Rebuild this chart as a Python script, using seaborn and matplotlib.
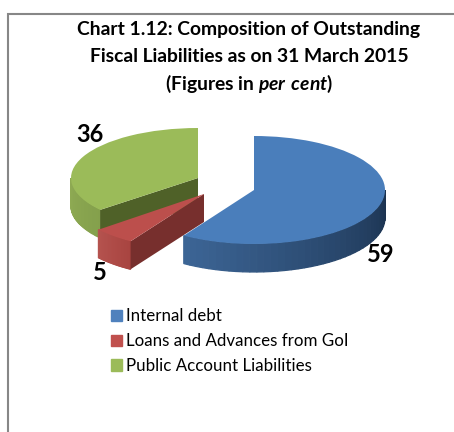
import numpy as np
import matplotlib
matplotlib.use("Agg")
import matplotlib.pyplot as plt
from matplotlib.colors import to_rgb
from matplotlib.patches import Patch
from matplotlib.transforms import Affine2D
import seaborn as sns

categories = ["Internal debt", "Loans and Advances from GoI", "Public Account Liabilities"]
shares = [59, 5, 36]
share_labels = ["59", "5", "36"]
top_colors = ["#4A7EBB", "#BC4F4C", "#9BBB59"]
legend_colors = ["#4F81BD", "#C0504D", "#9BBB59"]
cut_colors = ["#1C3350", "#772F2D", "#4F6128"]
wall_left = ["#3D6697", "#B5534F", "#8FAB54"]
wall_right = ["#1B324F", "#A84440", "#84A04C"]

# slice centre and radii on the page, in pixels
centers = [(254, 190), (204, 194), (198, 178)]
radii = [(131, 54), (137, 56), (127, 50)]
depth = 28

sns.set_theme(style="white")
plt.rcParams["font.family"] = ["Lato", "DejaVu Sans"]
plt.rcParams["mathtext.fontset"] = "custom"
plt.rcParams["mathtext.bfit"] = "Lato:italic:bold"
plt.rcParams["mathtext.rm"] = "Lato:bold"

fig = plt.figure(figsize=(4.54, 4.32), dpi=100)
ax = fig.add_axes([0, 0, 1, 1])

wedges, _ = ax.pie(shares, colors=top_colors, startangle=90, counterclock=False,
                   wedgeprops={"linewidth": 0})
ax.set_aspect("auto")
ax.set_xlim(0, 454)
ax.set_ylim(432, 0)


def rim(i, angle):
    # angle is clockwise from 12 o'clock
    a = np.radians(angle)
    cx, cy = centers[i]
    rx, ry = radii[i]
    return cx + rx * np.sin(a), cy - ry * np.cos(a)


def draw_wall(i, start, stop, z):
    left = np.array(to_rgb(wall_left[i]))
    right = np.array(to_rgb(wall_right[i]))
    angles = np.linspace(start, stop, 41)
    for a0, a1 in zip(angles[:-1], angles[1:]):
        x0, y0 = rim(i, a0)
        x1, y1 = rim(i, a1)
        t = (a0 - start) / (stop - start)
        # blue runs from the right edge to the left, the others the other way
        c = left * t + right * (1 - t) if i == 0 else left * (1 - t) + right * t
        ax.fill([x0, x1, x1, x0], [y0, y1, y1 + depth, y0 + depth],
                facecolor=c, edgecolor=c, lw=0.9, zorder=z)


cum = np.cumsum([0] + shares) / sum(shares) * 360
z_order = {2: 1, 1: 3, 0: 5}

# green slice: outer wall and the dark cut face
draw_wall(2, 270, cum[2], z_order[2])
gx, gy = rim(2, cum[2])
ax.fill([centers[2][0], gx, gx, centers[2][0]],
        [centers[2][1], gy, gy + depth, centers[2][1] + depth],
        color=cut_colors[2], lw=0, zorder=z_order[2] + 0.5)

# red slice
draw_wall(1, cum[2], cum[1], z_order[1])
rx_, ry_ = rim(1, cum[1])
ax.fill([centers[1][0], rx_, rx_, centers[1][0]],
        [centers[1][1], ry_, ry_ + depth, centers[1][1] + depth],
        color=cut_colors[1], lw=0, zorder=z_order[1] + 0.5)

# blue slice
draw_wall(0, 90, cum[1], z_order[0])

for i, w in enumerate(wedges):
    cx, cy = centers[i]
    rx, ry = radii[i]
    w.set_transform(Affine2D().scale(rx, -ry).translate(cx, cy) + ax.transData)
    w.set_zorder(z_order[i] + 1)
    w.set_clip_on(False)

# frame of the page, only left and top are visible
ax.plot([8, 8, 454], [432, 14, 14], color="#878787", lw=1.5, zorder=0,
        solid_joinstyle="miter")

title_lines = ["Chart 1.12: Composition of Outstanding",
               "Fiscal Liabilities as on 31 March 2015",
               r"(Figures in $\mathbfit{per\ cent}$)"]
for line, y in zip(title_lines, [30, 57, 84]):
    ax.text(249, y, line, ha="center", va="center", fontsize=13.9,
            fontweight="bold", color="black")

label_pos = [(381, 255), (100, 273), (90, 134)]
for lab, (x, y) in zip(share_labels, label_pos):
    ax.text(x, y, lab, ha="center", va="center", fontsize=17,
            fontweight="bold", color="black")

handles = [Patch(color=c) for c in legend_colors]
ax.legend(handles, categories, loc="upper left", bbox_to_anchor=(108 / 454, 1 - 305 / 432),
          frameon=False, fontsize=12.2, handlelength=0.65, handleheight=0.65,
          handletextpad=0.2, labelspacing=0.52, borderpad=0.2, borderaxespad=0,
          labelcolor="black")

fig.savefig("out.png", dpi=100)
